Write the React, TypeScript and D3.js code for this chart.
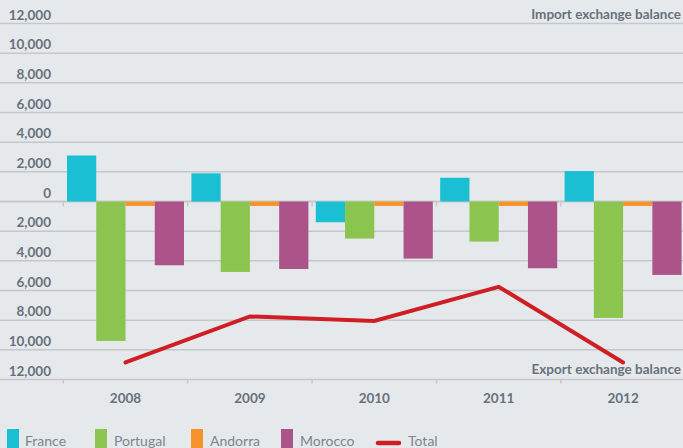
import React from 'react';
import * as d3 from 'd3';

const years = ['2008', '2009', '2010', '2011', '2012'];
const seriesNames = ['France', 'Portugal', 'Andorra', 'Morocco'];
const france = [3100, 1900, -1400, 1600, 2050];
const portugal = [-9400, -4750, -2500, -2700, -7850];
const andorra = [-300, -300, -300, -300, -300];
const morocco = [-4300, -4550, -3850, -4500, -4950];
const total = [-10850, -7750, -8050, -5750, -10850];
const yTicks = [12000, 10000, 8000, 6000, 4000, 2000, 0, -2000, -4000, -6000, -8000, -10000, -12000];

const colors = ['#1bbfd3', '#8bc54f', '#f7932c', '#ac5389'];
const totalColor = '#cf1f25';
const W = 683;
const H = 448;
const font = 'Lato, "Open Sans", sans-serif';
const labelColor = '#66717b';
const gridColor = '#c5c8cb';

const App = () => {
  const values = [france, portugal, andorra, morocco];

  const x = d3.scaleBand().domain(years).range([63.3, 63.3 + 5 * 124.4]).padding(0);
  const inner = d3.scaleBand().domain(seriesNames).range([3.7, 120.7]).padding(0);
  const y = d3.scaleLinear().domain([-12000, 12000]).range([379.5, 23.5]);
  const fmt = d3.format(',');

  const line = d3.line<number>()
    .x((d, i) => (x(years[i]) as number) + x.bandwidth() / 2)
    .y(d => y(d));

  // legend slots (x of swatch, x of text)
  const legendX = [7, 95, 191, 281];
  const legendTextX = [25, 114, 210, 300];

  return (
    <div style={{ position: 'absolute', left: 0, top: 0 }}>
      <svg width={W} height={H} style={{ display: 'block', background: '#e6e9ec' }}>
        {/* gridlines + y labels */}
        {yTicks.map(t => (
          <g key={t}>
            <line x1={0} x2={W} y1={y(t)} y2={y(t)} stroke={gridColor} strokeWidth={t === 0 ? 2 : 1.5} />
            <text x={51} y={y(t) - 4} textAnchor="end" fontFamily={font} fontWeight={700}
              fontSize={13.5} fill={labelColor}>{fmt(Math.abs(t))}</text>
          </g>
        ))}

        {/* ticks on zero line and bottom axis */}
        {years.map(yr => (
          <g key={yr}>
            <line x1={x(yr)} x2={x(yr)} y1={y(0)} y2={y(0) + 5} stroke={gridColor} strokeWidth={1.5} />
            <line x1={x(yr)} x2={x(yr)} y1={y(-12000)} y2={y(-12000) + 4} stroke={gridColor} strokeWidth={1.5} />
            <text x={(x(yr) as number) + x.bandwidth() / 2} y={402.5} textAnchor="middle" fontFamily={font}
              fontWeight={700} fontSize={13.5} fill={labelColor}>{yr}</text>
          </g>
        ))}

        {/* bars */}
        {years.map((yr, i) => (
          <g key={yr} transform={`translate(${x(yr)},0)`}>
            {seriesNames.map((s, j) => {
              const v = values[j][i];
              return (
                <rect key={s} x={inner(s)} width={inner.bandwidth()}
                  y={Math.min(y(v), y(0))} height={Math.abs(y(v) - y(0))} fill={colors[j]} />
              );
            })}
          </g>
        ))}

        {/* total line */}
        <path d={line(total) || ''} fill="none" stroke={totalColor} strokeWidth={4}
          strokeLinecap="round" strokeLinejoin="miter" />

        <text x={681} y={19} textAnchor="end" fontFamily={font} fontWeight={700} fontSize={13.5}
          fill={labelColor}>Import exchange balance</text>
        <text x={681} y={374} textAnchor="end" fontFamily={font} fontWeight={700} fontSize={13.5}
          fill={labelColor}>Export exchange balance</text>

        {/* legend */}
        {seriesNames.map((s, j) => (
          <g key={s}>
            <rect x={legendX[j]} y={429} width={12} height={20} fill={colors[j]} />
            <text x={legendTextX[j]} y={446} fontFamily={font} fontSize={14} fill="#7b8690">{s}</text>
          </g>
        ))}
        <line x1={378} x2={399} y1={443} y2={443} stroke={totalColor} strokeWidth={4.5} strokeLinecap="round" />
        <text x={408} y={446} fontFamily={font} fontSize={14} fill="#7b8690">Total</text>
      </svg>
    </div>
  );
};

export default App;
